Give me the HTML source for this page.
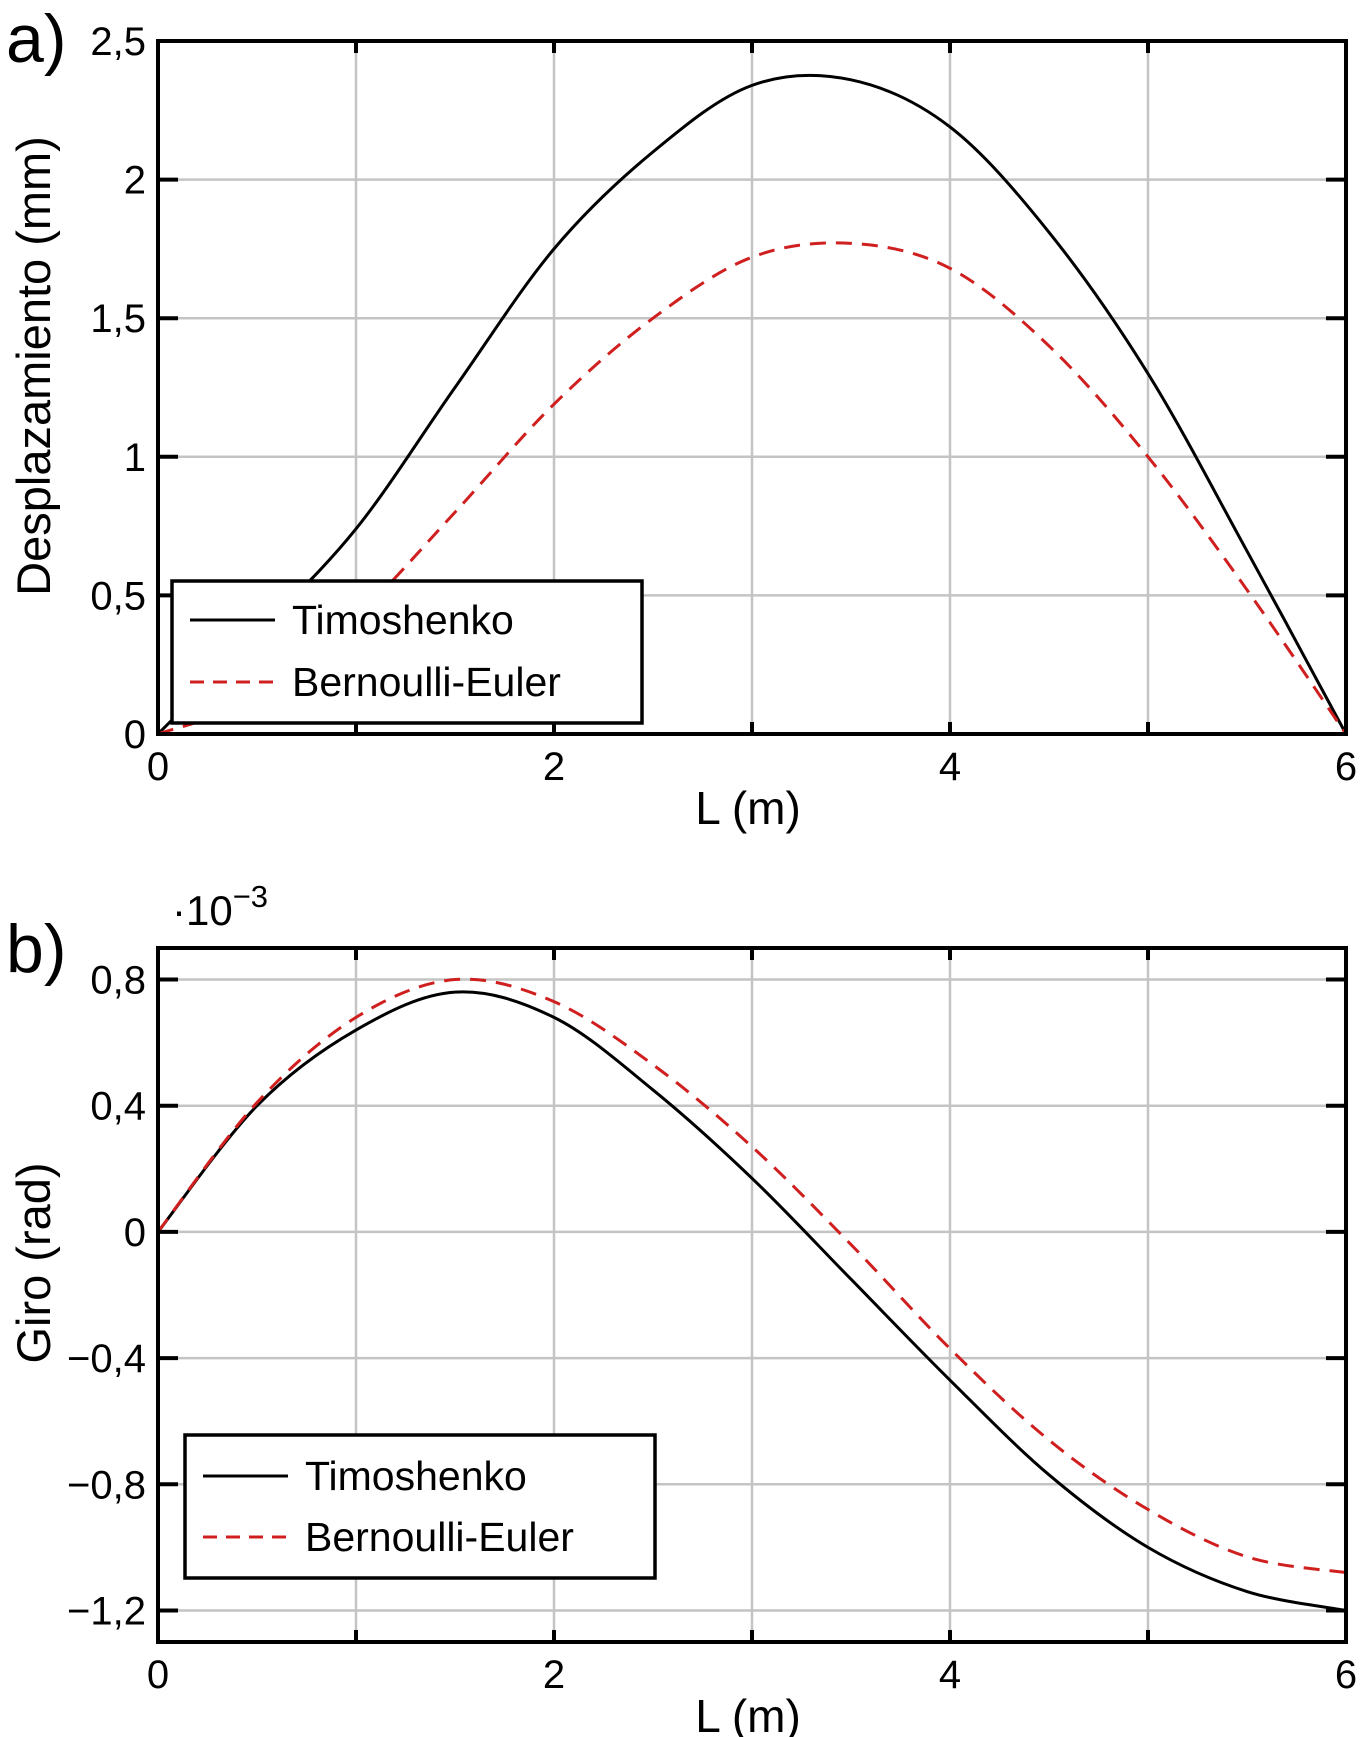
<!DOCTYPE html>
<html><head><meta charset="utf-8"><style>
html,body{margin:0;padding:0;background:#fff;}
svg{display:block;font-family:"Liberation Sans",Arial,sans-serif;}
</style></head><body>
<svg id="chart" width="1361" height="1737" viewBox="0 0 1361 1737" xmlns="http://www.w3.org/2000/svg">
<rect x="0" y="0" width="1361" height="1737" fill="#fff"/>
<g id="root"></g>
</svg>
<script>
const xCats = [0,0.5,1,1.5,2,2.5,3,3.5,4,4.5,5,5.5,6];
const dispTimo = [0,0.36,0.74,1.25,1.75,2.1,2.34,2.36,2.19,1.81,1.3,0.66,0];
const dispBern = [0,0.13,0.42,0.8,1.19,1.5,1.72,1.77,1.68,1.4,1.0,0.52,0];
const xRot = [0,0.5,1,1.5,2,2.5,3,3.5,4,4.5,5,5.5,6];
const rotTimo = [0,0.4,0.64,0.76,0.68,0.45,0.17,-0.15,-0.47,-0.77,-1.0,-1.14,-1.2];
const rotBern = [0,0.41,0.68,0.8,0.73,0.53,0.27,-0.04,-0.37,-0.66,-0.88,-1.03,-1.08];
const xTicks = [0,1,2,3,4,5,6];
const xTickLabels = ["0","","2","","4","","6"];
const yTicksA = [0,0.5,1,1.5,2,2.5];
const yTickLabelsA = ["0","0,5","1","1,5","2","2,5"];
const yTicksB = [-1.2,-0.8,-0.4,0,0.4,0.8];
const yTickLabelsB = ["\u22121,2","\u22120,8","\u22120,4","0","0,4","0,8"];

const NS="http://www.w3.org/2000/svg";
const root=document.getElementById('root');
function mk(tag,attrs,parent,text){const e=document.createElementNS(NS,tag);for(const k in attrs)e.setAttribute(k,attrs[k]);if(text!==undefined)e.textContent=text;(parent||root).appendChild(e);return e;}
function smooth(pts){let d=`M${pts[0][0]},${pts[0][1]}`;for(let i=0;i<pts.length-1;i++){const p0=pts[Math.max(0,i-1)],p1=pts[i],p2=pts[i+1],p3=pts[Math.min(pts.length-1,i+2)];const c1=[p1[0]+(p2[0]-p0[0])/6,p1[1]+(p2[1]-p0[1])/6],c2=[p2[0]-(p3[0]-p1[0])/6,p2[1]-(p3[1]-p1[1])/6];d+=` C${c1[0]},${c1[1]} ${c2[0]},${c2[1]} ${p2[0]},${p2[1]}`;}return d;}

function panel(cfg){
  const L=158,R=1346,T=cfg.top,B=cfg.bottom;
  const sx=v=>L+(v-0)/6*(R-L);
  const sy=v=>B-(v-cfg.ymin)/(cfg.ymax-cfg.ymin)*(B-T);
  const g=mk('g',{});
  
  
  xTicks.forEach(t=>{ if(t>0&&t<6){const l=mk('line',{x1:sx(t),x2:sx(t),y1:T,y2:B,stroke:'#c4c4c4','stroke-width':2.5},g);}});
  cfg.yt.forEach(t=>{ if(sy(t)>T+2&&sy(t)<B-2){const l=mk('line',{x1:L,x2:R,y1:sy(t),y2:sy(t),stroke:'#c4c4c4','stroke-width':2.5},g);}});
  const p1=mk('path',{d:smooth(cfg.xs.map((x,i)=>[sx(x),sy(cfg.s1[i])])),fill:'none',stroke:'#000','stroke-width':3},g);
  
  const p2=mk('path',{d:smooth(cfg.xs.map((x,i)=>[sx(x),sy(cfg.s2[i])])),fill:'none',stroke:'#d01f1f','stroke-width':3,'stroke-dasharray':'16 10'},g);
  
  xTicks.forEach((t,i)=>{ if(t>0&&t<6){mk('line',{x1:sx(t),x2:sx(t),y1:B,y2:B-12,stroke:'#000','stroke-width':4},g);mk('line',{x1:sx(t),x2:sx(t),y1:T,y2:T+12,stroke:'#000','stroke-width':4},g);}
    if(xTickLabels[i]){const tx=mk('text',{x:sx(t),y:B+46,'text-anchor':'middle','font-size':40},g,xTickLabels[i]);}});
  cfg.yt.forEach((t,i)=>{ mk('line',{x1:L,x2:L+20,y1:sy(t),y2:sy(t),stroke:'#000','stroke-width':4},g);mk('line',{x1:R,x2:R-20,y1:sy(t),y2:sy(t),stroke:'#000','stroke-width':4},g);
    const tx=mk('text',{x:L-12,y:sy(t)+14,'text-anchor':'end','font-size':40},g,cfg.ytl[i]);});
  const fr=mk('rect',{x:L,y:T,width:R-L,height:B-T,fill:'none',stroke:'#000','stroke-width':4},g);
  
  const lg=mk('g',{},g);
  const lb=cfg.leg;
  mk('rect',{x:lb.x,y:lb.y,width:lb.w,height:lb.h,fill:'#fff',stroke:'#000','stroke-width':3.5},lg);
  mk('line',{x1:lb.x+18,x2:lb.x+103,y1:lb.b1-14,y2:lb.b1-14,stroke:'#000','stroke-width':3},lg);
  mk('line',{x1:lb.x+18,x2:lb.x+103,y1:lb.b2-14,y2:lb.b2-14,stroke:'#d01f1f','stroke-width':3,'stroke-dasharray':'14 9'},lg);
  const e1=mk('text',{x:lb.x+120,y:lb.b1,'font-size':41},lg,'Timoshenko');
  const e2=mk('text',{x:lb.x+120,y:lb.b2,'font-size':41},lg,'Bernoulli-Euler');
  const xt=mk('text',{x:748,y:B+90,'text-anchor':'middle','font-size':46},g,'L (m)');
  const yt=mk('text',{x:0,y:0,'text-anchor':'middle','font-size':47,transform:`translate(50,${cfg.ytc}) rotate(-90)`},g,cfg.ytitle);
  const pl=mk('text',{x:6,y:cfg.labY,'font-size':68},g,cfg.label);
}
panel({name:'displacement-chart',top:41,bottom:734,ymin:0,ymax:2.5,xs:xCats,s1:dispTimo,s2:dispBern,yt:yTicksA,ytl:yTickLabelsA,
  leg:{x:172,y:581,w:470,h:142,b1:634,b2:696},ytitle:'Desplazamiento (mm)',ytc:366,label:'a)',labY:62});
panel({name:'rotation-chart',top:948,bottom:1642,ymin:-1.3,ymax:0.9,xs:xRot,s1:rotTimo,s2:rotBern,yt:yTicksB,ytl:yTickLabelsB,
  leg:{x:185,y:1435,w:470,h:143,b1:1490,b2:1551},ytitle:'Giro (rad)',ytc:1263,label:'b)',labY:972});
const sc=mk('text',{x:172,y:925,'font-size':42});


sc.innerHTML='·10<tspan dy="-18" font-size="31">−3</tspan>';
</script>
</body></html>
